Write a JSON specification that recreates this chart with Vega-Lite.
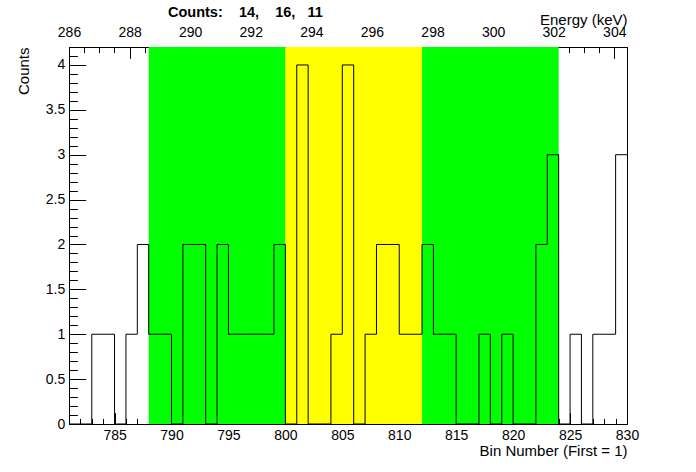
{
  "$schema": "https://vega.github.io/schema/vega-lite/v6.json",
  "autosize": {"type": "none"},
  "padding": {"left": 69, "top": 47, "right": 69, "bottom": 48},
  "width": 558,
  "height": 377,
  "background": "white",
  "config": {
    "view": {"stroke": "black", "strokeWidth": 1},
    "font": "Liberation Sans",
    "axis": {"labelFont": "Liberation Sans", "titleFont": "Liberation Sans", "labelColor": "black", "titleColor": "black", "domainColor": "black", "tickColor": "black", "grid": false, "labelFontSize": 14, "titleFontSize": 15, "titleFontWeight": "normal", "labelOverlap": false, "labelFlush": false, "labelBound": false}
  },
  "title": {
    "text": "Counts:\u00a0\u00a0\u00a0 14,\u00a0\u00a0\u00a0 16,\u00a0\u00a0 11",
    "anchor": "start",
    "frame": "group",
    "dx": 99,
    "dy": 19,
    "fontSize": 14.5,
    "fontWeight": "bold",
    "font": "Liberation Sans",
    "color": "black",
    "baseline": "alphabetic",
    "offset": 0
  },
  "datasets": {
    "hist": [
      {"bin": 781, "counts": 0}, {"bin": 782, "counts": 0}, {"bin": 783, "counts": 1}, {"bin": 784, "counts": 1},
      {"bin": 785, "counts": 0}, {"bin": 786, "counts": 1}, {"bin": 787, "counts": 2}, {"bin": 788, "counts": 1},
      {"bin": 789, "counts": 1}, {"bin": 790, "counts": 0}, {"bin": 791, "counts": 2}, {"bin": 792, "counts": 2},
      {"bin": 793, "counts": 0}, {"bin": 794, "counts": 2}, {"bin": 795, "counts": 1}, {"bin": 796, "counts": 1},
      {"bin": 797, "counts": 1}, {"bin": 798, "counts": 1}, {"bin": 799, "counts": 2}, {"bin": 800, "counts": 0},
      {"bin": 801, "counts": 4}, {"bin": 802, "counts": 0}, {"bin": 803, "counts": 0}, {"bin": 804, "counts": 1},
      {"bin": 805, "counts": 4}, {"bin": 806, "counts": 0}, {"bin": 807, "counts": 1}, {"bin": 808, "counts": 2},
      {"bin": 809, "counts": 2}, {"bin": 810, "counts": 1}, {"bin": 811, "counts": 1}, {"bin": 812, "counts": 2},
      {"bin": 813, "counts": 1}, {"bin": 814, "counts": 1}, {"bin": 815, "counts": 0}, {"bin": 816, "counts": 0},
      {"bin": 817, "counts": 1}, {"bin": 818, "counts": 0}, {"bin": 819, "counts": 1}, {"bin": 820, "counts": 0},
      {"bin": 821, "counts": 0}, {"bin": 822, "counts": 2}, {"bin": 823, "counts": 3}, {"bin": 824, "counts": 0},
      {"bin": 825, "counts": 1}, {"bin": 826, "counts": 0}, {"bin": 827, "counts": 1}, {"bin": 828, "counts": 1},
      {"bin": 829, "counts": 3}, {"bin": 830, "counts": 3}
    ],
    "bands": [
      {"bin": 788, "bin_end": 800, "region": "side"},
      {"bin": 800, "bin_end": 812, "region": "peak"},
      {"bin": 812, "bin_end": 824, "region": "side"}
    ],
    "energy": [{"energy": 286}, {"energy": 304}]
  },
  "layer": [
    {
      "encoding": {
        "x": {"field": "bin", "type": "quantitative", "scale": {"domain": [781, 830], "nice": false, "zero": false},
          "axis": {
            "orient": "bottom",
            "title": "Bin Number (First = 1)",
            "titleX": 558, "titleY": 31, "titleAlign": "right", "titleBaseline": "alphabetic", "titleAnchor": "end",
            "values": [782,783,784,785,786,787,788,789,790,791,792,793,794,795,796,797,798,799,800,801,802,803,804,805,806,807,808,809,810,811,812,813,814,815,816,817,818,819,820,821,822,823,824,825,826,827,828,829,830],
            "labelExpr": "datum.value % 5 === 0 ? format(datum.value, 'd') : ''",
            "tickSize": {"condition": {"test": "datum.value % 5 === 0", "value": -11.3}, "value": -5.6},
            "labelPadding": 27,
            "labelOverlap": false,
            "labelBaseline": "alphabetic"
          }
        }
      },
      "layer": [
        {
          "data": {"name": "bands"},
          "mark": {"type": "rect", "strokeWidth": 0},
          "encoding": {
            "x2": {"field": "bin_end"},
            "color": {"field": "region", "type": "nominal", "scale": {"domain": ["side", "peak"], "range": ["#00ff00", "#ffff00"]}, "legend": null}
          }
        },
        {
          "data": {"name": "hist"},
          "mark": {"type": "line", "interpolate": "step-after", "color": "black", "strokeWidth": 1},
          "encoding": {
            "y": {"field": "counts", "type": "quantitative", "scale": {"domain": [0, 4.2], "nice": false},
              "axis": {
                "title": "Counts",
                "titleAngle": -90, "titleX": -41, "titleY": 0, "titleAlign": "right", "titleBaseline": "alphabetic", "titleAnchor": "end",
                "values": [0,0.1,0.2,0.3,0.4,0.5,0.6,0.7,0.8,0.9,1,1.1,1.2,1.3,1.4,1.5,1.6,1.7,1.8,1.9,2,2.1,2.2,2.3,2.4,2.5,2.6,2.7,2.8,2.9,3,3.1,3.2,3.3,3.4,3.5,3.6,3.7,3.8,3.9,4,4.1,4.2],
                "labelExpr": "abs(datum.value * 2 - round(datum.value * 2)) < 0.001 ? format(datum.value, '~g') : ''",
                "tickSize": {"condition": {"test": "abs(datum.value * 2 - round(datum.value * 2)) < 0.001", "value": -16.7}, "value": -8.4},
                "labelPadding": 21,
                "labelOverlap": false,
                "labelAlign": "right",
                "labelBaseline": "middle"
              }
            }
          }
        }
      ]
    },
    {
      "data": {"name": "energy"},
      "mark": {"type": "point", "opacity": 0},
      "encoding": {
        "x": {"field": "energy", "type": "quantitative", "scale": {"domain": [286, 304.42], "nice": false, "zero": false},
          "axis": {
            "orient": "top",
            "title": "Energy (keV)",
            "titleX": 558, "titleY": -23, "titleAlign": "right", "titleBaseline": "alphabetic", "titleAnchor": "end",
            "values": [286,286.5,287,287.5,288,288.5,289,289.5,290,290.5,291,291.5,292,292.5,293,293.5,294,294.5,295,295.5,296,296.5,297,297.5,298,298.5,299,299.5,300,300.5,301,301.5,302,302.5,303,303.5,304],
            "labelExpr": "datum.value % 2 === 0 ? format(datum.value, 'd') : ''",
            "tickSize": {"condition": {"test": "datum.value % 2 === 0", "value": -11.3}, "value": -5.6},
            "labelPadding": 22,
            "labelOverlap": false,
            "labelBaseline": "alphabetic"
          }
        }
      }
    }
  ],
  "resolve": {"scale": {"x": "independent"}, "axis": {"x": "independent"}}
}
